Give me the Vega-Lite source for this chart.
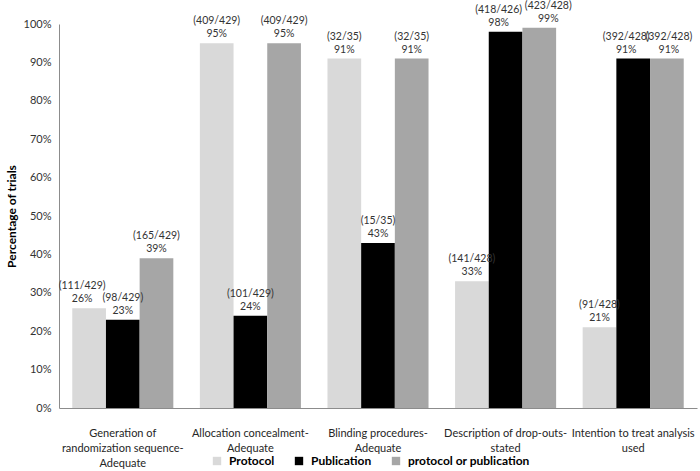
{
  "$schema": "https://vega.github.io/schema/vega-lite/v6.json",
  "width": 638,
  "height": 384,
  "autosize": {"type": "none"},
  "padding": {"left": 59, "top": 24, "right": 3, "bottom": 63},
  "background": "white",
  "config": {
    "font": "Lato",
    "view": {"stroke": null},
    "axis": {"labelFont": "Lato", "titleFont": "Lato", "labelColor": "#333333", "domainColor": "#8c8c8c"}
  },
  "data": {
    "values": [
      {"measure": "Generation of|randomization sequence-|Adequate", "source": "Protocol", "pct": 26, "frac": "(111/429)", "pctText": "26%"},
      {"measure": "Generation of|randomization sequence-|Adequate", "source": "Publication", "pct": 23, "frac": "(98/429)", "pctText": "23%"},
      {"measure": "Generation of|randomization sequence-|Adequate", "source": "protocol or publication", "pct": 39, "frac": "(165/429)", "pctText": "39%"},
      {"measure": "Allocation concealment-|Adequate", "source": "Protocol", "pct": 95, "frac": "(409/429)", "pctText": "95%"},
      {"measure": "Allocation concealment-|Adequate", "source": "Publication", "pct": 24, "frac": "(101/429)", "pctText": "24%"},
      {"measure": "Allocation concealment-|Adequate", "source": "protocol or publication", "pct": 95, "frac": "(409/429)", "pctText": "95%"},
      {"measure": "Blinding procedures-|Adequate", "source": "Protocol", "pct": 91, "frac": "(32/35)", "pctText": "91%"},
      {"measure": "Blinding procedures-|Adequate", "source": "Publication", "pct": 43, "frac": "(15/35)", "pctText": "43%"},
      {"measure": "Blinding procedures-|Adequate", "source": "protocol or publication", "pct": 91, "frac": "(32/35)", "pctText": "91%"},
      {"measure": "Description of drop-outs-|stated", "source": "Protocol", "pct": 33, "frac": "(141/428)", "pctText": "33%"},
      {"measure": "Description of drop-outs-|stated", "source": "Publication", "pct": 98, "frac": "(418/426)", "pctText": "98%"},
      {"measure": "Description of drop-outs-|stated", "source": "protocol or publication", "pct": 99, "frac": "(423/428)", "pctText": "99%"},
      {"measure": "Intention to treat analysis|used", "source": "Protocol", "pct": 21, "frac": "(91/428)", "pctText": "21%"},
      {"measure": "Intention to treat analysis|used", "source": "Publication", "pct": 91, "frac": "(392/428)", "pctText": "91%"},
      {"measure": "Intention to treat analysis|used", "source": "protocol or publication", "pct": 91, "frac": "(392/428)", "pctText": "91%"}
    ]
  },
  "encoding": {
    "x": {
      "field": "measure", "type": "nominal", "sort": null,
      "scale": {"paddingInner": 0.208, "paddingOuter": 0.104},
      "axis": {"title": null, "labelAngle": 0, "ticks": false, "labelPadding": 19, "labelFontSize": 11, "labelLineHeight": 15, "labelBaseline": "top", "labelExpr": "split(datum.label, '|')", "labelLimit": 200, "labelColor": "#262626"}
    },
    "xOffset": {
      "field": "source", "type": "nominal",
      "sort": ["Protocol", "Publication", "protocol or publication"],
      "scale": {"paddingInner": 0, "paddingOuter": 0}
    },
    "y": {
      "field": "pct", "type": "quantitative",
      "scale": {"domain": [0, 100], "nice": false},
      "axis": {"title": "Percentage of trials", "titleFontWeight": "bold", "titleFontSize": 12, "titleColor": "#000000", "titlePadding": 5, "values": [0,10,20,30,40,50,60,70,80,90,100], "labelExpr": "datum.value + '%'", "ticks": false, "grid": false, "labelFontSize": 11, "labelPadding": 8}
    }
  },
  "layer": [
    {
      "mark": {"type": "bar"},
      "encoding": {
        "color": {
          "field": "source", "type": "nominal",
          "sort": ["Protocol", "Publication", "protocol or publication"],
          "scale": {"domain": ["Protocol", "Publication", "protocol or publication"], "range": ["#d9d9d9", "#000000", "#a6a6a6"]},
          "legend": {"title": null, "orient": "none", "direction": "horizontal", "legendX": 152, "legendY": 431, "symbolType": "square", "symbolSize": 70, "symbolStrokeWidth": 0, "labelFontWeight": "bold", "labelFontSize": 12, "labelColor": "#000000", "columnPadding": 18, "labelOffset": 6}
        }
      }
    },
    {
      "transform": [{"filter": "!((datum.source != 'Protocol') && (datum.measure == 'Description of drop-outs-|stated' || datum.measure == 'Intention to treat analysis|used')) && !(datum.source == 'Protocol' && datum.measure == 'Generation of|randomization sequence-|Adequate')"}],
      "layer": [
        {"mark": {"type": "text", "baseline": "bottom", "dy": -4, "fontSize": 10.5, "color": "#333333"}, "encoding": {"text": {"field": "pctText"}}},
        {"mark": {"type": "text", "baseline": "bottom", "dy": -17, "fontSize": 10.5, "color": "#333333"}, "encoding": {"text": {"field": "frac"}}}
      ]
    },
    {
      "transform": [{"filter": "(datum.source == 'Publication' && (datum.measure == 'Description of drop-outs-|stated' || datum.measure == 'Intention to treat analysis|used')) || (datum.source == 'Protocol' && datum.measure == 'Generation of|randomization sequence-|Adequate')"}],
      "layer": [
        {"mark": {"type": "text", "baseline": "bottom", "dy": -4, "dx": -7, "fontSize": 10.5, "color": "#333333"}, "encoding": {"text": {"field": "pctText"}}},
        {"mark": {"type": "text", "baseline": "bottom", "dy": -17, "dx": -7, "fontSize": 10.5, "color": "#333333"}, "encoding": {"text": {"field": "frac"}}}
      ]
    },
    {
      "transform": [{"filter": "datum.source == 'protocol or publication' && datum.measure == 'Description of drop-outs-|stated'"}],
      "layer": [
        {"mark": {"type": "text", "baseline": "bottom", "dy": -4, "dx": 9, "fontSize": 10.5, "color": "#333333"}, "encoding": {"text": {"field": "pctText"}}},
        {"mark": {"type": "text", "baseline": "bottom", "dy": -17, "dx": 9, "fontSize": 10.5, "color": "#333333"}, "encoding": {"text": {"field": "frac"}}}
      ]
    },
    {
      "transform": [{"filter": "datum.source == 'protocol or publication' && datum.measure == 'Intention to treat analysis|used'"}],
      "layer": [
        {"mark": {"type": "text", "baseline": "bottom", "dy": -4, "dx": 2, "fontSize": 10.5, "color": "#333333"}, "encoding": {"text": {"field": "pctText"}}},
        {"mark": {"type": "text", "baseline": "bottom", "dy": -17, "dx": 2, "fontSize": 10.5, "color": "#333333"}, "encoding": {"text": {"field": "frac"}}}
      ]
    }
  ]
}
